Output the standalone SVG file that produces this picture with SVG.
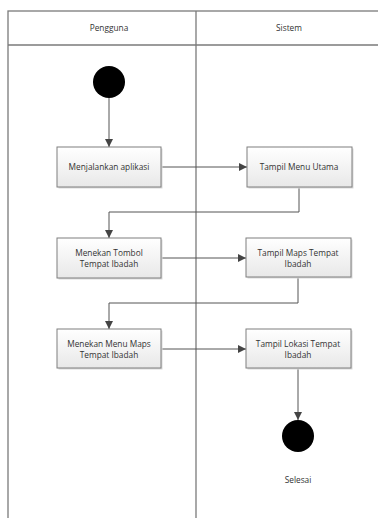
<svg xmlns="http://www.w3.org/2000/svg" width="378" height="518" viewBox="0 0 378 518">
<style>
.frame{fill:none;stroke:#7a7a7a;stroke-width:1.3}
.box{fill:url(#g);stroke:#7f7f7f;stroke-width:1}
.sh{fill:#dadada}
.t{font-family:"Open Sans","Liberation Sans",sans-serif;font-size:8.3px;fill:#333;text-anchor:middle}
.c{fill:none;stroke:#555;stroke-width:1}
</style>
<defs>
<linearGradient id="g" x1="0" y1="0" x2="0" y2="1">
<stop offset="0" stop-color="#ffffff"/>
<stop offset="1" stop-color="#e8e8e8"/>
</linearGradient>
<marker id="a" viewBox="0 0 10 10" refX="10" refY="5" markerWidth="8" markerHeight="8" markerUnits="userSpaceOnUse" orient="auto">
<path d="M0,0 L10,5 L0,10 z" fill="#444"/>
</marker>
</defs>
<rect width="378" height="518" fill="#fff"/>
<g id="swimlanes">
<rect class="frame" x="8" y="11" width="380" height="520"/>
<line class="frame" x1="8" y1="45" x2="378" y2="45"/>
<line class="frame" x1="196" y1="11" x2="196" y2="518"/>
<text class="t" x="109" y="31">Pengguna</text>
<text class="t" x="289" y="31">Sistem</text>
</g>
<g id="connectors">
<path class="c" d="M109,98 V147" marker-end="url(#a)"/>
<path class="c" d="M161,167 H247" marker-end="url(#a)"/>
<path class="c" d="M299,187 V212 H109 V238" marker-end="url(#a)"/>
<path class="c" d="M161,258 H246" marker-end="url(#a)"/>
<path class="c" d="M298,277 V303 H109 V329" marker-end="url(#a)"/>
<path class="c" d="M161,349 H246" marker-end="url(#a)"/>
<path class="c" d="M298,368 V420" marker-end="url(#a)"/>
</g>
<g id="start"><circle cx="109" cy="82" r="16" fill="#000"/></g>
<g id="n1">
<rect class="sh" x="58.5" y="148.5" width="104" height="40"/>
<rect class="box" x="57" y="147" width="104" height="40"/>
<text class="t" x="109" y="170">Menjalankan aplikasi</text>
</g>
<g id="n2">
<rect class="sh" x="248.5" y="148.5" width="105" height="40"/>
<rect class="box" x="247" y="147" width="105" height="40"/>
<text class="t" x="299" y="170">Tampil Menu Utama</text>
</g>
<g id="n3">
<rect class="sh" x="58.5" y="239.5" width="104" height="40"/>
<rect class="box" x="57" y="238" width="104" height="40"/>
<text class="t" x="109" y="256">Menekan Tombol</text>
<text class="t" x="109" y="267">Tempat Ibadah</text>
</g>
<g id="n4">
<rect class="sh" x="247.5" y="239.5" width="105" height="39"/>
<rect class="box" x="246" y="238" width="105" height="39"/>
<text class="t" x="298" y="256">Tampil Maps Tempat</text>
<text class="t" x="298" y="267">Ibadah</text>
</g>
<g id="n5">
<rect class="sh" x="58.5" y="330.5" width="104" height="39"/>
<rect class="box" x="57" y="329" width="104" height="39"/>
<text class="t" x="109" y="347">Menekan Menu Maps</text>
<text class="t" x="109" y="358">Tempat Ibadah</text>
</g>
<g id="n6">
<rect class="sh" x="247.5" y="330.5" width="105" height="39"/>
<rect class="box" x="246" y="329" width="105" height="39"/>
<text class="t" x="298" y="347">Tampil Lokasi Tempat</text>
<text class="t" x="298" y="358">Ibadah</text>
</g>
<g id="end">
<circle cx="298" cy="436" r="16" fill="#000"/>
<text class="t" x="298" y="483">Selesai</text>
</g>
</svg>
